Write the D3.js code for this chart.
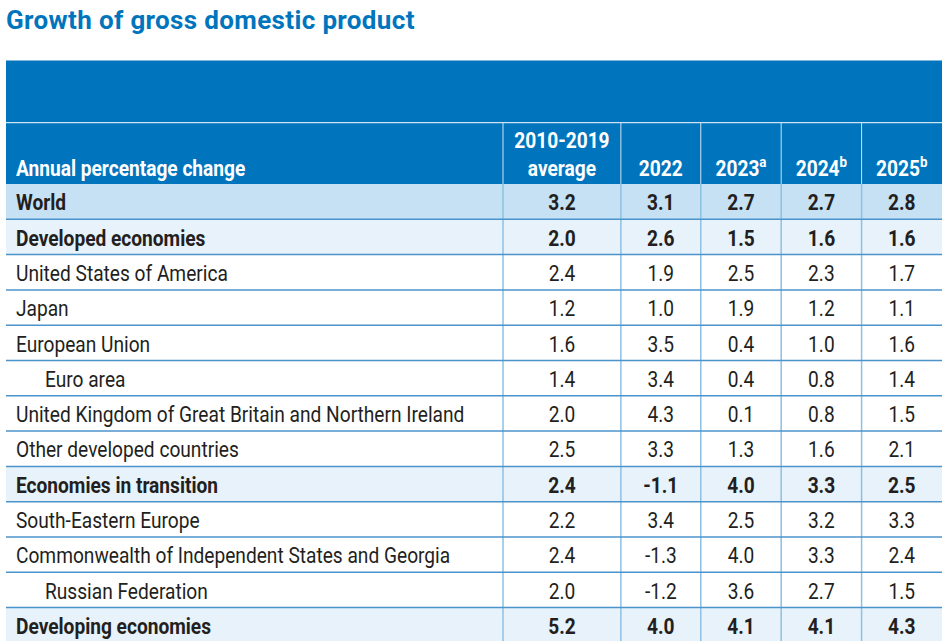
<!DOCTYPE html>
<html><head><meta charset="utf-8">
<script src="https://cdn.jsdelivr.net/npm/d3@7"></script>
<style>
html,body{margin:0;padding:0;background:#fff;}
svg{display:block;font-family:Roboto,"Noto Sans",sans-serif;}
</style></head>
<body><svg id="chart" width="942" height="641"></svg>
<script>
const title = "Growth of gross domestic product";
const stubHeader = "Annual percentage change";
const columns = ["avg", "2022", "2023", "2024", "2025"];
const columnLabels = [["2010-2019", "average"], ["2022"], ["2023"], ["2024"], ["2025"]];
const columnNotes = ["", "", "a", "b", "b"];
const rowLabels = [
  "World",
  "Developed economies",
  "United States of America",
  "Japan",
  "European Union",
  "Euro area",
  "United Kingdom of Great Britain and Northern Ireland",
  "Other developed countries",
  "Economies in transition",
  "South-Eastern Europe",
  "Commonwealth of Independent States and Georgia",
  "Russian Federation",
  "Developing economies"
];
const avg2010_2019 = [3.2, 2.0, 2.4, 1.2, 1.6, 1.4, 2.0, 2.5, 2.4, 2.2, 2.4, 2.0, 5.2];
const g2022 = [3.1, 2.6, 1.9, 1.0, 3.5, 3.4, 4.3, 3.3, -1.1, 3.4, -1.3, -1.2, 4.0];
const g2023 = [2.7, 1.5, 2.5, 1.9, 0.4, 0.4, 0.1, 1.3, 4.0, 2.5, 4.0, 3.6, 4.1];
const g2024 = [2.7, 1.6, 2.3, 1.2, 1.0, 0.8, 0.8, 1.6, 3.3, 3.2, 3.3, 2.7, 4.1];
const g2025 = [2.8, 1.6, 1.7, 1.1, 1.6, 1.4, 1.5, 2.1, 2.5, 3.3, 2.4, 1.5, 4.3];
const worldRows = ["World"];
const groupRows = ["Developed economies", "Economies in transition", "Developing economies"];
const indentedRows = ["Euro area", "Russian Federation"];

const series = [avg2010_2019, g2022, g2023, g2024, g2025];

// layout
const tableLeft = 6, tableRight = 942;
const headTop = 60.5, headMid = 122.7, headBottom = 184;
const rowH = 35.3;
const stubWidth = 497;
const colWeights = [118, 80, 80.5, 80.5, 80.5];
const C = {
  dark: "#0075bd",
  world: "#c7e1f4",
  group: "#e7f2fb",
  rowLine: "#4b93cb",
  colLine: "#8cc0e4",
  text: "#231f20"
};
const condense = 0.89;
const fs = 21.5;

const fmt = d3.formatLocale({decimal: ".", thousands: ",", grouping: [3], currency: ["", ""], minus: "-"}).format(".1f");

const svg = d3.select("#chart");

// scales
const cum = [0];
colWeights.forEach(w => cum.push(cum[cum.length - 1] + w));
const xEdge = d3.scaleLinear().domain([0, cum[cum.length - 1]]).range([tableLeft + stubWidth, tableRight]);
const colLeft = i => xEdge(cum[i]);
const colRight = i => xEdge(cum[i + 1]);
const colCenter = i => (colLeft(i) + colRight(i)) / 2;

const y = d3.scaleBand().domain(rowLabels).range([headBottom, headBottom + rowH * rowLabels.length]).padding(0);

// title
svg.append("text")
  .attr("x", 6).attr("y", 28.5)
  .attr("fill", C.dark)
  .attr("font-size", 26).attr("font-weight", 700)
  .attr("letter-spacing", 0.35)
  .text(title);

// header background
svg.append("rect").attr("x", tableLeft).attr("y", headTop)
  .attr("width", tableRight - tableLeft).attr("height", headBottom - headTop)
  .attr("fill", C.dark);
svg.append("line").attr("x1", tableLeft).attr("x2", tableRight)
  .attr("y1", headMid).attr("y2", headMid)
  .attr("stroke", "#fff").attr("stroke-width", 1);
columns.forEach((c, i) => {
  svg.append("line").attr("x1", colLeft(i)).attr("x2", colLeft(i))
    .attr("y1", headMid).attr("y2", headBottom)
    .attr("stroke", "#cfe3f3").attr("stroke-width", 1);
});

function ctext(g, x, yy, str, opts) {
  const t = g.append("text")
    .attr("transform", `translate(${x},${yy}) scale(${condense},1)`)
    .attr("font-size", opts.size || fs)
    .attr("font-weight", opts.weight || 400)
    .attr("fill", opts.fill || C.text)
    .attr("text-anchor", opts.anchor || "start");
  return t.text(str);
}

const head = svg.append("g");
ctext(head, 16, 175.5, stubHeader, {weight: 700, fill: "#fff"});
columnLabels.forEach((lines, i) => {
  const n = lines.length;
  lines.forEach((s, k) => {
    const t = ctext(head, colCenter(i), 175.5 - (n - 1 - k) * 27.5, null, {weight: 700, fill: "#fff", anchor: "middle"});
    t.text(null);
    t.append("tspan").text(s);
    if (k === n - 1 && columnNotes[i]) {
      t.append("tspan").attr("font-size", 15).attr("dy", -9).text(columnNotes[i]);
    }
  });
});

// body rows
const body = svg.append("g");
rowLabels.forEach((lab) => {
  const top = y(lab);
  const fill = worldRows.includes(lab) ? C.world : groupRows.includes(lab) ? C.group : "#fff";
  body.append("rect").attr("x", tableLeft).attr("y", top)
    .attr("width", tableRight - tableLeft).attr("height", y.bandwidth())
    .attr("fill", fill);
});
columns.forEach((c, i) => {
  body.append("line").attr("x1", colLeft(i)).attr("x2", colLeft(i))
    .attr("y1", headBottom).attr("y2", 641)
    .attr("stroke", C.colLine).attr("stroke-width", 1.5);
});
rowLabels.forEach((lab, r) => {
  if (r === 0) return;
  const yy = y(lab);
  body.append("line").attr("x1", tableLeft).attr("x2", tableRight)
    .attr("y1", yy).attr("y2", yy)
    .attr("stroke", C.rowLine).attr("stroke-width", 1.5);
});
rowLabels.forEach((lab, r) => {
  const top = y(lab);
  const bold = worldRows.includes(lab) || groupRows.includes(lab);
  const indent = indentedRows.includes(lab) ? 29 : 0;
  ctext(body, 16 + indent, top + 26.3, lab, {weight: bold ? 700 : 400});
  series.forEach((vals, i) => {
    ctext(body, colCenter(i), top + 26.3, fmt(vals[r]), {weight: bold ? 700 : 400, anchor: "middle"});
  });
});
</script></body></html>
